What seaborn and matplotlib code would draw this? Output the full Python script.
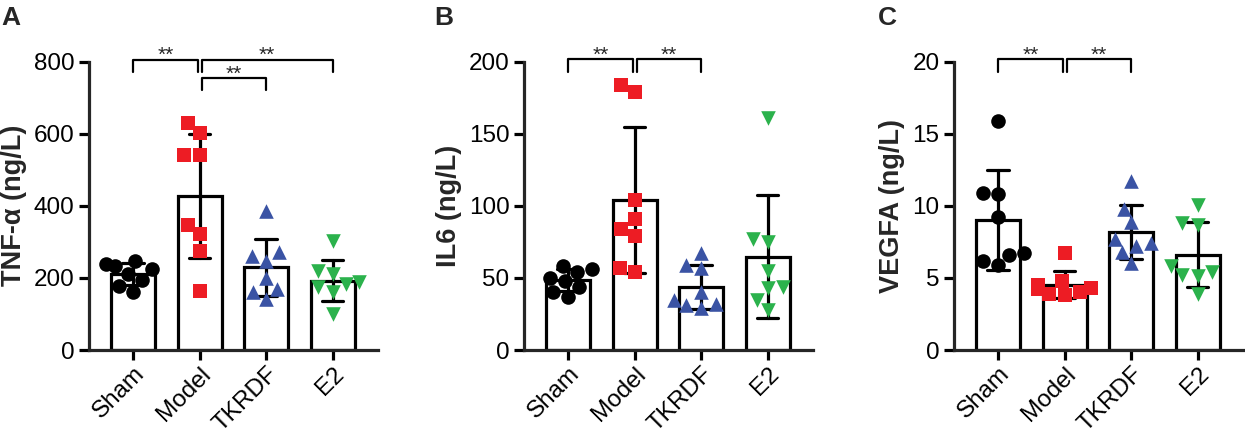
import numpy as np
import pandas as pd
import matplotlib
matplotlib.use("Agg")
import matplotlib.pyplot as plt
import matplotlib.transforms as mtransforms
import seaborn as sns

groups = ["Sham", "Model", "TKRDF", "E2"]
colors = ["black", "#ED1C24", "#3A53A4", "#2BB24C"]
markers = ["o", "s", "^", "v"]

# TNF-a (ng/L)
tnf_sham = [248, 238, 232, 225, 212, 195, 178, 162]
tnf_model = [601, 629, 541, 541, 347, 322, 275, 164]
tnf_tkrdf = [385, 262, 248, 271, 169, 199, 162, 141]
tnf_e2 = [302, 218, 210, 188, 175, 182, 160, 100]

# IL6 (ng/L)
il6_sham = [58, 56, 54, 50, 48, 44, 40, 37]
il6_model = [184, 179, 104, 91, 84, 79, 54, 57]
il6_tkrdf = [67.5, 59, 57, 40, 31, 29, 32, 35]
il6_e2 = [161, 75, 77, 55, 44, 43, 35, 28]

# VEGFA (ng/L)
vegfa_sham = [15.9, 10.9, 10.8, 9.2, 6.7, 6.6, 6.2, 5.9]
vegfa_model = [6.7, 4.8, 4.5, 4.3, 4.2, 4.0, 3.9, 3.8]
vegfa_tkrdf = [11.7, 9.8, 8.9, 7.7, 7.4, 7.2, 6.8, 6.0]
vegfa_e2 = [10.05, 8.7, 8.8, 5.8, 5.4, 5.2, 5.1, 3.9]

panels = [
    ("A", "TNF-α (ng/L)", [tnf_sham, tnf_model, tnf_tkrdf, tnf_e2], [0, 200, 400, 600, 800],
     [(0, 1, 805, 33), (1, 3, 805, 33), (1, 2, 753, 32)]),
    ("B", "IL6 (ng/L)", [il6_sham, il6_model, il6_tkrdf, il6_e2], [0, 50, 100, 150, 200],
     [(0, 1, 201.5, 8.5), (1, 2, 201.5, 8.5)]),
    ("C", "VEGFA (ng/L)", [vegfa_sham, vegfa_model, vegfa_tkrdf, vegfa_e2], [0, 5, 10, 15, 20],
     [(0, 1, 20.15, 0.85), (1, 2, 20.15, 0.85)]),
]

sns.set_style("ticks")
plt.rcParams['font.family'] = ['Liberation Sans', 'DejaVu Sans']

fig = plt.figure(figsize=(12.45, 4.28), dpi=100)
lefts = [0.0715, 0.4209, 0.7663]
letter_x = [0.001, 0.349, 0.705]

for k, (letter, ylab, data, yticks, brackets) in enumerate(panels):
    ax = fig.add_axes([lefts[k], 0.1822, 0.2321, 0.674])
    df = pd.DataFrame({
        "group": np.repeat(groups, [len(d) for d in data]),
        "value": np.concatenate(data),
    })
    sns.barplot(data=df, x="group", y="value", order=groups, color="white", saturation=1,
                edgecolor="black", linewidth=2.3, width=0.66, errorbar="sd", capsize=0.32,
                err_kws={"color": "black", "linewidth": 2.3}, ax=ax)
    for g, c, m in zip(groups, colors, markers):
        sub = df[df["group"] == g]
        sns.swarmplot(x=sub["group"], y=sub["value"], order=groups, color=c, marker=m,
                      size=10.5, linewidth=0, zorder=3, ax=ax)

    ax.set_xlim(-0.66, 3.68)
    ax.set_ylim(0, yticks[-1])
    ax.set_yticks(yticks)
    ax.set_xlabel("")
    ax.set_ylabel(ylab, fontsize=19.5, fontweight="bold", labelpad=5)
    sns.despine(ax=ax)
    for s in ["left", "bottom"]:
        ax.spines[s].set_linewidth(2.3)
    ax.tick_params(width=2.3, length=7, labelsize=17.5, colors="black")

    shift = mtransforms.ScaledTranslation(0.08, -0.06, fig.dpi_scale_trans)
    for lab in ax.get_xticklabels():
        lab.set_rotation(45)
        lab.set_ha("right")
        lab.set_va("center")
        lab.set_rotation_mode("anchor")
        lab.set_transform(lab.get_transform() + shift)

    # significance brackets
    for i, j, y, tip in brackets:
        x1 = i + 0.03 if i == 1 else i
        x2 = j - 0.03 if j == 1 else j
        ax.plot([x1, x1, x2, x2], [y - tip, y, y, y - tip], color="black", lw=1.6,
                clip_on=False, zorder=4)
        ax.text((x1 + x2) / 2, y - tip * 0.1, "**", ha="center", va="baseline",
                fontsize=15, clip_on=False)

    fig.text(letter_x[k], 0.985, letter, fontsize=19, fontweight="bold", ha="left", va="top")

fig.savefig("out.png", dpi=100)
